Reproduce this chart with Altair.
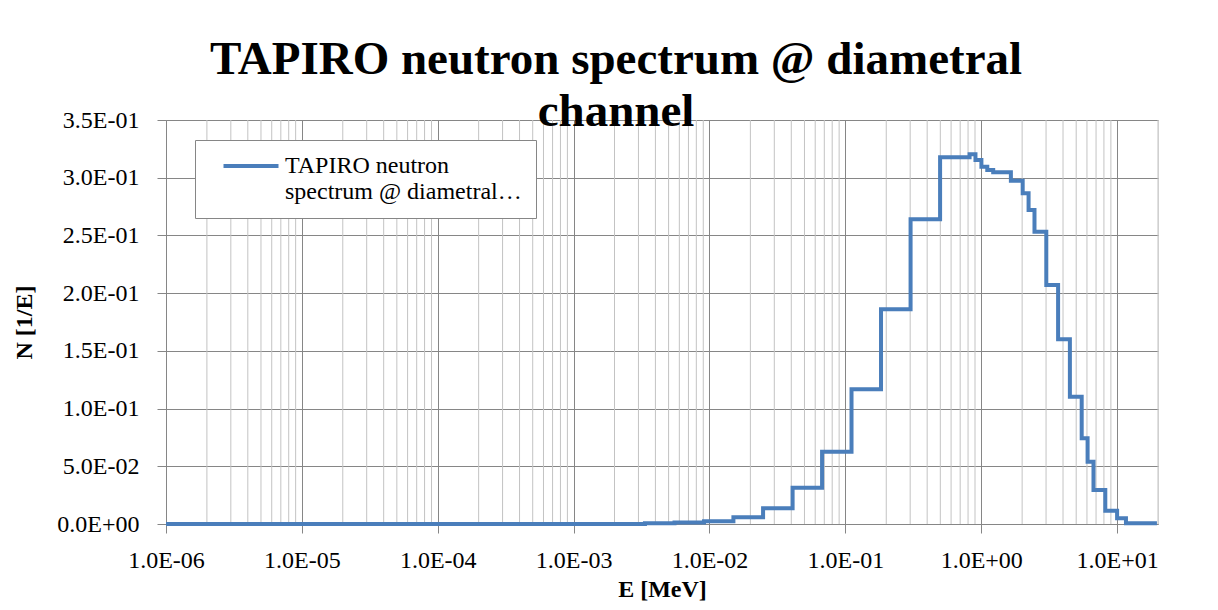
import altair as alt
import pandas as pd

# Group lower edges (MeV) plus final upper edge
edges = [1e-6, 3.35e-3, 5.53e-3, 9.12e-3, 1.50e-2, 2.48e-2, 4.09e-2, 6.74e-2, 0.111,
         0.183, 0.302, 0.498, 0.821, 0.907, 1.003, 1.108, 1.225, 1.653, 2.019, 2.231,
         2.466, 3.012, 3.679, 4.493, 5.488, 6.065, 6.703, 8.187, 10.0, 11.62, 19.64]
# Spectrum value per group N [1/E]
values = [0.0001, 0.0007, 0.0012, 0.0023, 0.0058, 0.0136, 0.0314, 0.0626, 0.1167,
          0.186, 0.264, 0.3177, 0.3203, 0.3154, 0.3096, 0.3067, 0.3047, 0.2974, 0.2865,
          0.272, 0.2532, 0.207, 0.160, 0.1103, 0.0742, 0.054, 0.0295, 0.0115, 0.0049, 0.0006]
series_name = "TAPIRO neutron spectrum @ diametral channel"

x_major = [1e-6, 1e-5, 1e-4, 1e-3, 1e-2, 1e-1, 1e0, 1e1]
x_minor = [m * 10.0 ** k for k in range(-6, 1) for m in range(2, 10)] + [20.0]
y_ticks = [0.0, 0.05, 0.10, 0.15, 0.20, 0.25, 0.30, 0.35]

df = pd.DataFrame({"E": edges, "N": values + [values[-1]], "series": series_name})
minor_df = pd.DataFrame({"E": x_minor})

FONT = "Liberation Serif"
MAJOR = "#868686"
MINOR = "#c3c3c3"

def sci_expr():
    e = "floor(log(abs(datum.value))/LN10 + 1e-9)"
    return ("datum.value == 0 ? '0.0E+00' : format(datum.value / pow(10, " + e + "), '.1f') + 'E' + (" + e +
            " < 0 ? '-' : '+') + format(abs(" + e + "), '02d')")

xscale = alt.Scale(type="log", domain=[1e-6, 20], nice=False)
yscale = alt.Scale(domain=[0, 0.35], nice=False)

minor = alt.Chart(minor_df).mark_rule(color=MINOR, strokeWidth=1).encode(
    x=alt.X("E:Q", scale=xscale)
)

line = alt.Chart(df).mark_line(interpolate="step-after", strokeWidth=4).encode(
    x=alt.X("E:Q", scale=xscale,
            axis=alt.Axis(values=x_major, labelExpr=sci_expr(), title="E [MeV]",
                          grid=True, gridColor=MAJOR, domainColor=MAJOR, tickColor=MAJOR,
                          tickSize=9, labelPadding=15, labelFont=FONT, labelFontSize=24,
                          labelColor="black", titleFont=FONT, titleFontSize=24,
                          titleFontWeight="bold", titleColor="black",
                          titleBaseline="alphabetic", titleY=72, labelFlush=False)),
    y=alt.Y("N:Q", scale=yscale,
            axis=alt.Axis(values=y_ticks, labelExpr=sci_expr(), title="N [1/E]",
                          grid=True, gridColor=MAJOR, domainColor=MAJOR, tickColor=MAJOR,
                          tickSize=9, labelPadding=18, labelFont=FONT, labelFontSize=24,
                          labelColor="black", titleFont=FONT, titleFontSize=24,
                          titleFontWeight="bold", titleColor="black",
                          titleBaseline="middle", titleX=-142)),
    color=alt.Color("series:N", scale=alt.Scale(range=["#4a7ebb"]),
                    legend=alt.Legend(orient="none", legendX=29, legendY=20, title=None,
                                      fillColor="white", strokeColor=MAJOR, padding=14,
                                      symbolType="M-3,0L3,0", symbolSize=336,
                                      symbolStrokeWidth=4, symbolOffset=30,
                                      labelFont=FONT, labelFontSize=24, labelLimit=500,
                                      labelOffset=22, labelColor="black",
                                      labelExpr="['TAPIRO neutron', 'spectrum @ diametral\u2026']")),
)

chart = alt.layer(minor, line).properties(
    width=992, height=404,
    title=alt.TitleParams(text=["TAPIRO neutron spectrum @ diametral", "channel"],
                          font=FONT, fontSize=47, fontWeight="bold", color="black",
                          anchor="middle", dx=-46, offset=-28, lineHeight=52, frame="group"),
    autosize=alt.AutoSizeParams(type="none"),
    padding={"left": 158, "top": 112, "right": 52, "bottom": 78},
).configure_view(stroke=None).configure(background="white")

chart.save("out.html", embed_options={"renderer": "svg", "actions": False})
